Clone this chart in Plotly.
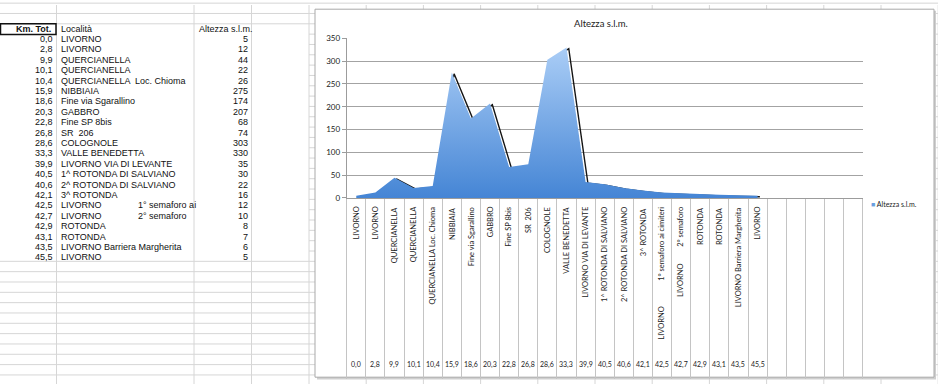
import plotly.graph_objects as go

# ---------------- data ----------------
km_tot = ["0,0", "2,8", "9,9", "10,1", "10,4", "15,9", "18,6", "20,3", "22,8", "26,8", "28,6",
          "33,3", "39,9", "40,5", "40,6", "42,1", "42,5", "42,7", "42,9", "43,1", "43,5", "45,5"]
localita = ["LIVORNO", "LIVORNO", "QUERCIANELLA", "QUERCIANELLA", "QUERCIANELLA Loc. Chioma",
            "NIBBIAIA", "Fine via Sgarallino", "GABBRO", "Fine SP 8bis", "SR  206", "COLOGNOLE",
            "VALLE BENEDETTA", "LIVORNO VIA DI LEVANTE", "1^ ROTONDA DI SALVIANO",
            "2^ ROTONDA DI SALVIANO", "3^ ROTONDA", "LIVORNO", "LIVORNO", "ROTONDA", "ROTONDA",
            "LIVORNO Barriera Margherita", "LIVORNO"]
note = ["", "", "", "", "", "", "", "", "", "", "", "", "", "", "", "",
        "1° semaforo ai cimiteri", "2° semaforo", "", "", "", ""]
note_table = ["", "", "", "", "", "", "", "", "", "", "", "", "", "", "", "",
              "1° semaforo ai", "2° semaforo", "", "", "", ""]
altezza = [5, 12, 44, 22, 26, 275, 174, 207, 68, 74, 303, 330, 35, 30, 22, 16, 12, 10, 8, 7, 6, 5]
n_empty_categories = 5
header = ["Km. Tot.", "Località", "Altezza s.l.m."]
series_name = "Altezza s.l.m."
y_ticks = [0, 50, 100, 150, 200, 250, 300, 350]

# ---------------- layout helpers ----------------
W, H = 938, 389
def px(x):
    return x / W
def py(y):
    return 1 - y / H

n_cat = len(km_tot) + n_empty_categories
xi = list(range(len(altezza)))

fig = go.Figure()

# dark drop shadow (offset right/down) that shows on the steep descending edges
shadow_dx, shadow_dy = 0.12, 2.6
fig.add_trace(go.Scatter(
    x=[v + shadow_dx for v in xi], y=[a - shadow_dy for a in altezza], mode="lines",
    line=dict(color="#151515", width=1.4), showlegend=False, hoverinfo="skip"))

fig.add_trace(go.Scatter(
    x=xi, y=altezza, mode="lines", name=series_name,
    line=dict(width=0, color="#5b95dc"), fill="tozeroy",
    fillgradient=dict(type="vertical", start=0, stop=max(altezza),
                      colorscale=[[0, "#4283d4"], [1, "#aacdf6"]]),
    showlegend=False))

shapes = []
grid_c = "#d6d6d6"
# spreadsheet column lines
col_x = [56.5, 194, 251.5, 309] + [309 + 57.2 * k for k in range(1, 12)]
for cx in col_x:
    shapes.append(dict(type="line", xref="paper", yref="paper", x0=px(cx), x1=px(cx),
                       y0=0, y1=1, line=dict(color=grid_c, width=1), layer="below"))
# spreadsheet row lines
y = 19.3 - 2 * 10.6
while y < H:
    full = (y <= 20) or (y >= 261)
    shapes.append(dict(type="line", xref="paper", yref="paper",
                       x0=0 if full else px(309), x1=1, y0=py(y), y1=py(y),
                       line=dict(color=grid_c, width=1), layer="below"))
    y += 10.6
# selected header cell
shapes.append(dict(type="rect", xref="paper", yref="paper", x0=px(0.5), x1=px(56),
                   y0=py(30.3), y1=py(19.3), line=dict(color="#111", width=1.5), layer="below"))
# chart box shadow + box
shapes.append(dict(type="rect", xref="paper", yref="paper", x0=px(317), x1=px(936),
                   y0=py(384.5), y1=py(6), fillcolor="#cfcfcf", line=dict(width=0), layer="below"))
shapes.append(dict(type="rect", xref="paper", yref="paper", x0=px(315), x1=px(934),
                   y0=py(382), y1=py(4.3), fillcolor="white",
                   line=dict(color="#a9a9a9", width=1), layer="below"))

annotations = []
tf = dict(family="Liberation Sans, Arial, sans-serif", size=9, color="#111")
row_y0, row_h = 35, 10.67
# headers
annotations.append(dict(text="<b>" + header[0] + "</b>", x=px(53), y=py(24.8), xref="paper",
                        yref="paper", xanchor="right", yanchor="middle", showarrow=False, font=tf))
annotations.append(dict(text=header[1], x=px(58.5), y=py(24.8), xref="paper", yref="paper",
                        xanchor="left", yanchor="middle", showarrow=False, font=tf))
annotations.append(dict(text=header[2], x=px(196.5), y=py(24.8), xref="paper", yref="paper",
                        xanchor="left", yanchor="middle", showarrow=False, font=tf))
for i in range(len(km_tot)):
    yy = py(row_y0 + i * row_h)
    annotations.append(dict(text=km_tot[i], x=px(54.5), y=yy, xref="paper", yref="paper",
                            xanchor="right", yanchor="middle", showarrow=False, font=tf))
    annotations.append(dict(text=localita[i].replace("Loc.", " Loc."), x=px(58.5), y=yy,
                            xref="paper", yref="paper",
                            xanchor="left", yanchor="middle", showarrow=False, font=tf))
    if note_table[i]:
        annotations.append(dict(text=note_table[i], x=px(136), y=yy, xref="paper", yref="paper",
                                xanchor="left", yanchor="middle", showarrow=False, font=tf))
    annotations.append(dict(text=str(altezza[i]), x=px(250), y=yy, xref="paper", yref="paper",
                            xanchor="right", yanchor="middle", showarrow=False, font=tf))

# chart texts
cf = dict(family="Lato, Open Sans, sans-serif", size=7.5, color="#222")
annotations.append(dict(text=series_name, x=px(601), y=py(19), xref="paper", yref="paper",
                        xanchor="center", yanchor="middle", showarrow=False,
                        font=dict(family="Lato, sans-serif", size=9.5, color="#222")))
# legend
annotations.append(dict(text='<span style="color:#6a9fe0">■</span> ' + series_name,
                        x=px(869), y=py(204), xref="paper", yref="paper",
                        xanchor="left", yanchor="middle", showarrow=False,
                        font=dict(family="Lato, sans-serif", size=7, color="#222")))
bottom_px = {16: 346, 17: 302}
for i in range(len(km_tot)):
    top_text = note[i] if note[i] else localita[i]
    annotations.append(dict(text=top_text, x=i, y=py(205), xref="x", yref="paper",
                            textangle=-90, xanchor="center", yanchor="top",
                            showarrow=False, font=cf))
    if note[i]:
        annotations.append(dict(text=localita[i], x=i, y=py(bottom_px.get(i, 346)), xref="x",
                                yref="paper", textangle=-90, xanchor="center",
                                yanchor="bottom", showarrow=False, font=cf))
    annotations.append(dict(text=km_tot[i], x=i, y=py(369), xref="x", yref="paper",
                            xanchor="center", yanchor="middle", showarrow=False,
                            font=dict(family="Lato, sans-serif", size=7, color="#222")))

fig.update_layout(
    width=W, height=H, autosize=False,
    margin=dict(l=0, r=0, t=0, b=0),
    paper_bgcolor="white", plot_bgcolor="rgba(0,0,0,0)",
    shapes=shapes, annotations=annotations,
    xaxis=dict(domain=[px(346.7), px(862.7)], range=[-0.5, n_cat - 0.5],
               tickmode="array", tickvals=[k - 0.5 for k in range(n_cat + 1)],
               showticklabels=False, ticks="outside", ticklen=180, tickcolor="#c4c4c4",
               tickwidth=1, showgrid=False, zeroline=False, showline=True,
               linecolor="#9c9c9c", linewidth=1, fixedrange=True),
    yaxis=dict(domain=[py(198), py(34.3)], range=[0, 350], tickmode="array",
               tickvals=y_ticks, ticks="outside", ticklen=4, tickcolor="#9c9c9c",
               showgrid=True, gridcolor="#a3a3a3", gridwidth=1, zeroline=False,
               showline=True, linecolor="#9c9c9c", linewidth=1,
               tickfont=dict(family="Lato, sans-serif", size=8, color="#222")),
    showlegend=False,
)

fig.write_html("out.html", config={"displayModeBar": False},
               post_script="document.body.style.margin='0';document.body.style.overflow='hidden';")
